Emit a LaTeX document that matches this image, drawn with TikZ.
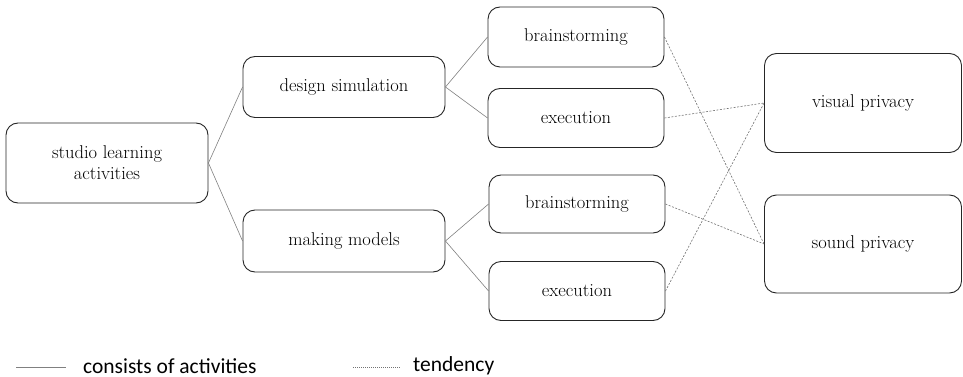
\documentclass[tikz,border=0pt]{standalone}
\usepackage{fontspec}
\newfontfamily\legendfont{Carlito}
\begin{document}
\begin{tikzpicture}[x=1pt,y=-1pt,
  box/.style={draw=black!85, line width=0.9pt, rounded corners=12pt, align=center,
    font=\rmfamily\fontsize{18.5}{21}\selectfont, inner sep=0pt},
  link/.style={draw=black!50, line width=0.6pt},
  trend/.style={draw=black!55, line width=0.6pt, dash pattern=on 2pt off 1.5pt},
  legtext/.style={font=\legendfont\fontsize{21.5}{24}\selectfont, anchor=west, inner sep=0pt}]
\useasboundingbox (0,0) rectangle (963,377);

% activity hierarchy
\node[box, minimum width=202pt, minimum height=80pt] (studio) at (107,163) {studio learning\\activities};
\node[box, minimum width=202pt, minimum height=61pt] (design) at (344,87) {design simulation};
\node[box, minimum width=202pt, minimum height=62pt] (models) at (344,241) {making models};
\node[box, minimum width=176pt, minimum height=60pt] (bs1) at (576,37) {brainstorming};
\node[box, minimum width=176pt, minimum height=59pt] (ex1) at (576,118) {execution};
\node[box, minimum width=176pt, minimum height=58pt] (bs2) at (577,204) {brainstorming};
\node[box, minimum width=176pt, minimum height=59pt] (ex2) at (577,291) {execution};

% privacy outcomes
\node[box, minimum width=197pt, minimum height=99pt] (visual) at (863,103) {visual privacy};
\node[box, minimum width=197pt, minimum height=98pt] (sound) at (863,244) {sound privacy};

% consists-of links
\draw[link] (studio.east) -- (design.west);
\draw[link] (studio.east) -- (models.west);
\draw[link] (design.east) -- (bs1.west);
\draw[link] (design.east) -- (ex1.west);
\draw[link] (models.east) -- (bs2.west);
\draw[link] (models.east) -- (ex2.west);

% tendency links
\draw[trend] (bs1.east) -- (sound.west);
\draw[trend] (ex1.east) -- (visual.west);
\draw[trend] (bs2.east) -- (sound.west);
\draw[trend] (ex2.east) -- (visual.west);

% legend
\coordinate (l1a) at (16,367);
\coordinate (l1b) at (66,367);
\draw[link] (l1a) -- (l1b);
\node[legtext] (l1t) at (83,366) {consists of activities};
\coordinate (l2a) at (353,367);
\coordinate (l2b) at (400,367);
\draw[trend, dash pattern=on 1pt off 1pt] (l2a) -- (l2b);
\node[legtext] (l2t) at (413,366) {tendency};
\end{tikzpicture}
\end{document}
